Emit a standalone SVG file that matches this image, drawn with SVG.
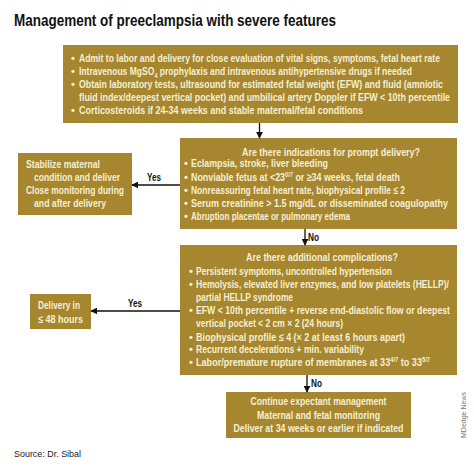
<svg xmlns="http://www.w3.org/2000/svg" width="474" height="474" viewBox="0 0 474 474">
<defs>
<style>
.box{fill:#a6862f}
.t{font-family:"Liberation Sans Narrow","Liberation Sans",Arial,sans-serif;font-size:11px;font-weight:bold;fill:#f6efd2}
.c{text-anchor:middle}
.lbl{font-family:"Liberation Sans Narrow","Liberation Sans",Arial,sans-serif;font-size:10.5px;font-weight:bold;fill:#111}
.sup{font-size:7px}
.conn{stroke:#111;stroke-width:1.3;fill:none;marker-end:url(#ah)}
</style>
<marker id="ah" viewBox="0 0 10 10" refX="9" refY="5" markerWidth="7" markerHeight="7" markerUnits="userSpaceOnUse" orient="auto">
<path d="M0,0 L10,5 L0,10 z" fill="#111"/>
</marker>
</defs>
<rect width="474" height="474" fill="#fff"/>
<text x="14" y="26" font-family="'Liberation Sans Narrow','Liberation Sans',Arial,sans-serif" font-size="16.5" font-weight="bold" fill="#111" textLength="322" lengthAdjust="spacingAndGlyphs">Management of preeclampsia with severe features</text>

<g id="n1">
<rect class="box" x="63" y="45" width="395" height="78"/>
<text class="t" x="71" y="62">•</text><text class="t" x="79" y="62" textLength="361" lengthAdjust="spacingAndGlyphs">Admit to labor and delivery for close evaluation of vital signs, symptoms, fetal heart rate</text>
<text class="t" x="71" y="75">•</text><text class="t" x="79" y="75" textLength="333" lengthAdjust="spacingAndGlyphs">Intravenous MgSO<tspan class="sup" dy="3">4</tspan><tspan dy="-3"> prophylaxis and intravenous antihypertensive drugs if needed</tspan></text>
<text class="t" x="71" y="88">•</text><text class="t" x="79" y="88" textLength="364" lengthAdjust="spacingAndGlyphs">Obtain laboratory tests, ultrasound for estimated fetal weight (EFW) and fluid (amniotic</text>
<text class="t" x="79" y="101" textLength="371" lengthAdjust="spacingAndGlyphs">fluid index/deepest vertical pocket) and umbilical artery Doppler if EFW &lt; 10th percentile</text>
<text class="t" x="71" y="114">•</text><text class="t" x="79" y="114" textLength="284" lengthAdjust="spacingAndGlyphs">Corticosteroids if 24-34 weeks and stable maternal/fetal conditions</text>
</g>

<g id="n2">
<rect class="box" x="180" y="138" width="277" height="91"/>
<text class="t" x="242" y="156" textLength="178" lengthAdjust="spacingAndGlyphs">Are there indications for prompt delivery?</text>
<text class="t" x="184" y="167">•</text><text class="t" x="191" y="167" textLength="137" lengthAdjust="spacingAndGlyphs">Eclampsia, stroke, liver bleeding</text>
<text class="t" x="184" y="180.5">•</text><text class="t" x="191" y="180.5" textLength="209" lengthAdjust="spacingAndGlyphs">Nonviable fetus at &lt;23<tspan class="sup" dy="-4">0/7</tspan><tspan dy="4"> or ≥34 weeks, fetal death</tspan></text>
<text class="t" x="184" y="194">•</text><text class="t" x="191" y="194" textLength="214" lengthAdjust="spacingAndGlyphs">Nonreassuring fetal heart rate, biophysical profile ≤ 2</text>
<text class="t" x="184" y="207">•</text><text class="t" x="191" y="207" textLength="257" lengthAdjust="spacingAndGlyphs">Serum creatinine &gt; 1.5 mg/dL or disseminated coagulopathy</text>
<text class="t" x="184" y="220">•</text><text class="t" x="191" y="220" textLength="159" lengthAdjust="spacingAndGlyphs">Abruption placentae or pulmonary edema</text>
</g>

<g id="n3">
<rect class="box" x="18" y="153" width="114" height="62"/>
<text class="t" x="26" y="168" textLength="74" lengthAdjust="spacingAndGlyphs">Stabilize maternal</text>
<text class="t" x="34" y="181" textLength="86" lengthAdjust="spacingAndGlyphs">condition and deliver</text>
<text class="t" x="26" y="194" textLength="98" lengthAdjust="spacingAndGlyphs">Close monitoring during</text>
<text class="t" x="34" y="207" textLength="72" lengthAdjust="spacingAndGlyphs">and after delivery</text>
</g>

<g id="n4">
<rect class="box" x="180" y="245" width="277" height="130"/>
<text class="t" x="246" y="261" textLength="152" lengthAdjust="spacingAndGlyphs">Are there additional complications?</text>
<text class="t" x="189" y="275">•</text><text class="t" x="196" y="275" textLength="196" lengthAdjust="spacingAndGlyphs">Persistent symptoms, uncontrolled hypertension</text>
<text class="t" x="189" y="288">•</text><text class="t" x="196" y="288" textLength="253" lengthAdjust="spacingAndGlyphs">Hemolysis, elevated liver enzymes, and low platelets (HELLP)/</text>
<text class="t" x="196" y="301" textLength="97" lengthAdjust="spacingAndGlyphs">partial HELLP syndrome</text>
<text class="t" x="189" y="314">•</text><text class="t" x="196" y="314" textLength="254" lengthAdjust="spacingAndGlyphs">EFW &lt; 10th percentile + reverse end-diastolic flow or deepest</text>
<text class="t" x="196" y="327" textLength="147" lengthAdjust="spacingAndGlyphs">vertical pocket &lt; 2 cm × 2 (24 hours)</text>
<text class="t" x="189" y="340.5">•</text><text class="t" x="196" y="340.5" textLength="209" lengthAdjust="spacingAndGlyphs">Biophysical profile ≤ 4 (× 2 at least 6 hours apart)</text>
<text class="t" x="189" y="353">•</text><text class="t" x="196" y="353" textLength="168" lengthAdjust="spacingAndGlyphs">Recurrent decelerations + min. variability</text>
<text class="t" x="189" y="366">•</text><text class="t" x="196" y="366" textLength="234" lengthAdjust="spacingAndGlyphs">Labor/premature rupture of membranes at 33<tspan class="sup" dy="-4">4/7</tspan><tspan dy="4"> to 33</tspan><tspan class="sup" dy="-4">5/7</tspan></text>
</g>

<g id="n5">
<rect class="box" x="30" y="294" width="61" height="35"/>
<text class="t" x="38" y="309" textLength="42" lengthAdjust="spacingAndGlyphs">Delivery in</text>
<text class="t" x="38" y="323" textLength="45" lengthAdjust="spacingAndGlyphs">≤ 48 hours</text>
</g>

<g id="n6">
<rect class="box" x="226" y="392" width="185" height="46"/>
<text class="t c" x="318.5" y="405" textLength="136" lengthAdjust="spacingAndGlyphs">Continue expectant management</text>
<text class="t c" x="318.5" y="418.5" textLength="123" lengthAdjust="spacingAndGlyphs">Maternal and fetal monitoring</text>
<text class="t c" x="318.5" y="432" textLength="170" lengthAdjust="spacingAndGlyphs">Deliver at 34 weeks or earlier if indicated</text>
</g>

<g id="connectors">
<line class="conn" x1="259.5" y1="123" x2="259.5" y2="138"/>
<line class="conn" x1="180" y1="185" x2="132" y2="185"/>
<text class="lbl" x="147" y="181" textLength="14" lengthAdjust="spacingAndGlyphs">Yes</text>
<line class="conn" x1="305" y1="229" x2="305" y2="245"/>
<text class="lbl" x="308" y="241" textLength="11" lengthAdjust="spacingAndGlyphs">No</text>
<line class="conn" x1="180" y1="311" x2="91" y2="311"/>
<text class="lbl" x="128" y="307" textLength="14" lengthAdjust="spacingAndGlyphs">Yes</text>
<line class="conn" x1="307" y1="375" x2="307" y2="392"/>
<text class="lbl" x="311" y="387" textLength="11" lengthAdjust="spacingAndGlyphs">No</text>
</g>

<text x="0" y="0" transform="translate(466,438) rotate(-90)" font-family="'Liberation Sans Narrow','Liberation Sans',Arial,sans-serif" font-size="8" fill="#777" textLength="46" lengthAdjust="spacingAndGlyphs">MDedge News</text>
<text x="14" y="457" font-family="'Liberation Sans',Arial,sans-serif" font-size="9" fill="#222" textLength="67" lengthAdjust="spacingAndGlyphs">Source: Dr. Sibal</text>
</svg>
